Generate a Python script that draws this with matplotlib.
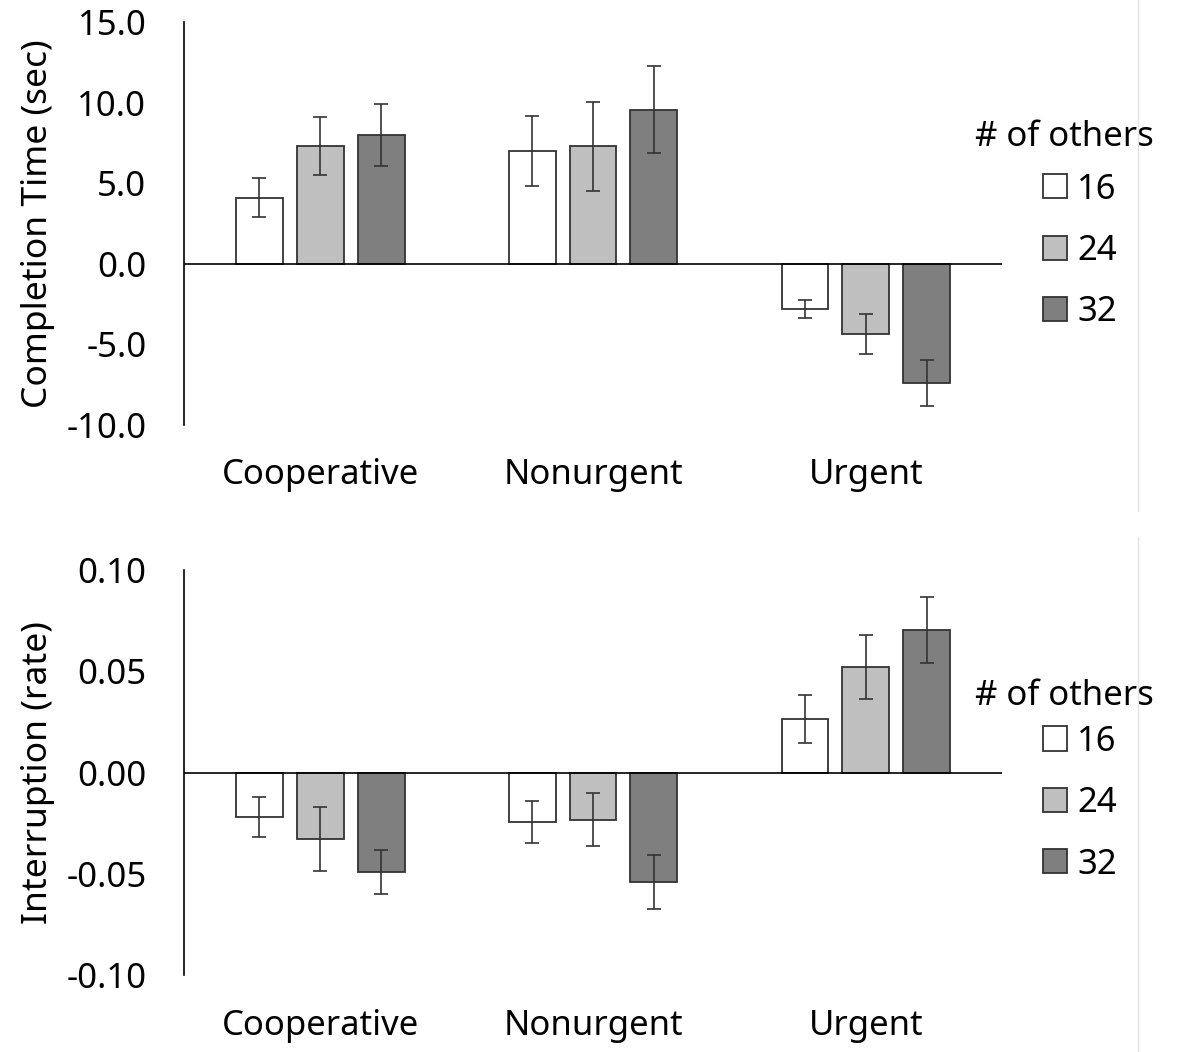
import matplotlib
matplotlib.use("Agg")

import numpy as np
import matplotlib.pyplot as plt
from matplotlib.lines import Line2D

plt.rcParams["font.family"] = ["Noto Sans", "DejaVu Sans"]

# Data
categories = ["Cooperative", "Nonurgent", "Urgent"]
groups = ["16", "24", "32"]
colors = ["#FFFFFF", "#BFBFBF", "#7F7F7F"]

# Completion time (sec): rows = # of others, cols = category
time_mean = [
    [4.1, 7.0, -2.8],
    [7.3, 7.3, -4.35],
    [8.0, 9.55, -7.4],
]
time_err = [
    [1.2, 2.2, 0.58],
    [1.8, 2.75, 1.25],
    [1.9, 2.7, 1.42],
]

# Interruption rate
rate_mean = [
    [-0.022, -0.0245, 0.0267],
    [-0.0326, -0.0233, 0.0523],
    [-0.049, -0.0538, 0.0706],
]
rate_err = [
    [0.0098, 0.0104, 0.0118],
    [0.0158, 0.0131, 0.0158],
    [0.011, 0.0134, 0.0163],
]

fig = plt.figure(figsize=(11.79, 10.52), dpi=100)

x = np.arange(len(categories))
width = 0.172
step = 0.223


def draw_panel(ax, means, errs, ylim, yticks, fmt, ylabel, leg_y, title_y):
    bars = []
    for i in range(3):
        b = ax.bar(x + (i - 1) * step, means[i], width, color=colors[i],
                   edgecolor="#333333", linewidth=1.3, zorder=2,
                   label=groups[i])
        ax.errorbar(x + (i - 1) * step, means[i], yerr=errs[i], fmt="none",
                    ecolor="#333333", elinewidth=1.2, capsize=5, capthick=1.2,
                    zorder=3)
        bars.append(b)
    ax.axhline(0, color="black", linewidth=1.2, zorder=4)
    ax.set_xlim(-0.5, 2.5)
    ax.set_ylim(*ylim)
    ax.set_yticks(yticks)
    ax.set_yticklabels([fmt.format(v) for v in yticks])
    ax.set_xticks(x)
    ax.set_xticklabels(categories)
    for s in ["top", "right", "bottom"]:
        ax.spines[s].set_visible(False)
    ax.spines["left"].set_linewidth(1.2)
    ax.tick_params(axis="y", length=0, pad=27, labelsize=25)
    ax.tick_params(axis="x", length=0, pad=24, labelsize=25)
    ax.set_ylabel(ylabel, fontsize=25.5, labelpad=8)
    ax.legend(handles=bars, frameon=False, fontsize=25, loc="center left",
              bbox_to_anchor=(1.050, leg_y), handlelength=0.69,
              handleheight=0.69, handletextpad=0.29, labelspacing=0.79,
              borderpad=0, borderaxespad=0)
    ax.text(1.0758, title_y, "# of others", transform=ax.transAxes,
            fontsize=25, ha="center", va="center")


ax1 = fig.add_axes([0.156, 0.596, 0.694, 0.383])
draw_panel(ax1, time_mean, time_err, (-10, 15), [-10, -5, 0, 5, 10, 15],
           "{:.1f}", "Completion Time (sec)", 0.432, 0.715)

ax2 = fig.add_axes([0.156, 0.073, 0.694, 0.385])
draw_panel(ax2, rate_mean, rate_err, (-0.1, 0.1), [-0.1, -0.05, 0, 0.05, 0.1],
           "{:.2f}", "Interruption (rate)", 0.425, 0.689)

# faint border lines at right
fig.add_artist(Line2D([0.9655, 0.9655], [0.514, 1.0], color="#E3E3E3",
                      linewidth=1, transform=fig.transFigure))
fig.add_artist(Line2D([0.9655, 0.9655], [0.0, 0.49], color="#E3E3E3",
                      linewidth=1, transform=fig.transFigure))

fig.savefig("out.png", dpi=100)
